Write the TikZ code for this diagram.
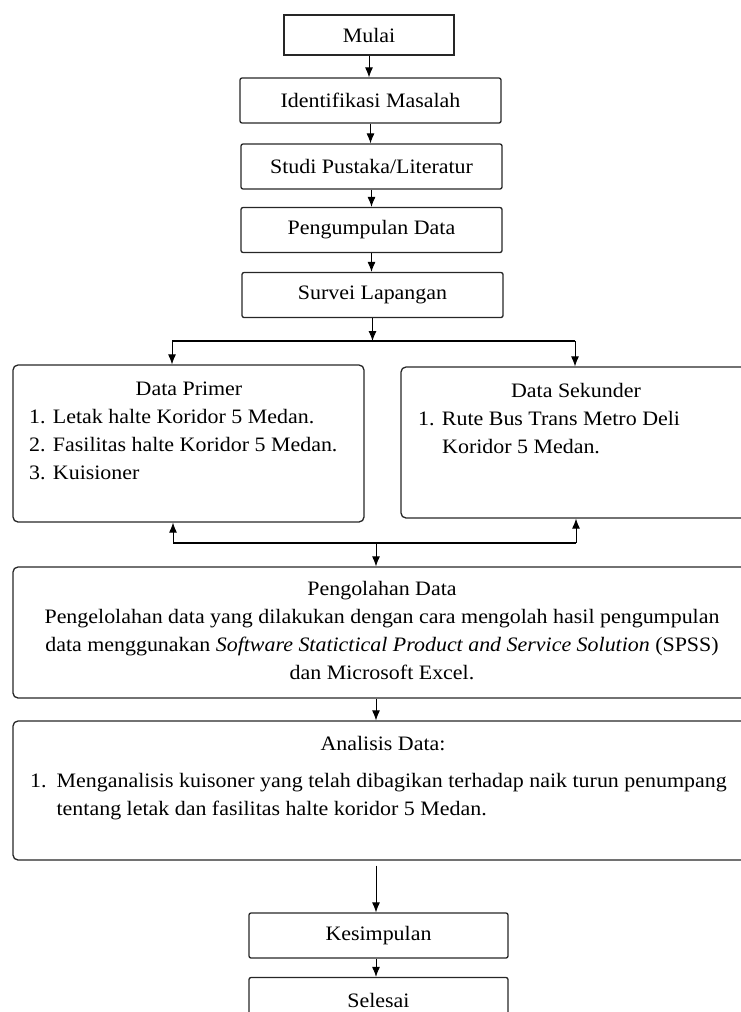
\documentclass[tikz,border=0pt]{standalone}
\usepackage{fontspec}
\setmainfont{Liberation Serif}[FakeStretch=1.07]
\usetikzlibrary{arrows.meta}

\begin{document}
\begin{tikzpicture}[x=1pt,y=-1pt,
    every node/.style={font=\fontsize{20.5}{28}\selectfont},
    box/.style={draw=black!85,line width=1.3pt,rounded corners=2pt,minimum width=261pt,minimum height=45pt,inner sep=0pt},
    bigbox/.style={draw=black!85,line width=1.3pt,rounded corners=5pt,inner sep=0pt},
    txt/.style={inner sep=0pt},
    arr/.style={line width=0.9pt,-{Latex[length=10pt,width=8pt]}},
    link/.style={line width=1.6pt}]
  \useasboundingbox (0,0) rectangle (741,1012);

  \node[box,sharp corners,minimum width=170pt,minimum height=40pt] (mulai) at (369,35) {Mulai};
  \node[box] (identifikasi) at (370.5,100.5) {Identifikasi Masalah};
  \node[box] (studi) at (371.5,166.5) {Studi Pustaka/Literatur};
  \node[box] (pengumpulan) at (371.5,230) {Pengumpulan Data};
  \node[box] (survei) at (372.5,295) {Survei Lapangan};

  \node[bigbox,minimum width=351pt,minimum height=157pt] (primer) at (188.5,443.5) {};
  \node[txt,anchor=base] (primerjudul) at (189,395) {Data Primer};
  \node[txt,anchor=base west] (primerisi) at (29,423) {\begin{tabular}[t]{@{}l@{}}
      1. Letak halte Koridor 5 Medan.\\
      2. Fasilitas halte Koridor 5 Medan.\\
      3. Kuisioner\end{tabular}};

  \node[bigbox,minimum width=349pt,minimum height=151pt] (sekunder) at (575.5,442.5) {};
  \node[txt,anchor=base] (sekunderjudul) at (576,397) {Data Sekunder};
  \node[txt,anchor=base west] (sekunderisi) at (418,425) {\begin{tabular}[t]{@{}l@{}}
      1. Rute Bus Trans Metro Deli\\
      \hspace{24pt}Koridor 5 Medan.\end{tabular}};

  \node[bigbox,minimum width=737pt,minimum height=131pt] (pengolahan) at (381.5,632.5) {};
  \node[txt,anchor=base] (pengolahanisi) at (382,595) {\begin{tabular}[t]{@{}c@{}}
      Pengolahan Data\\
      Pengelolahan data yang dilakukan dengan cara mengolah hasil pengumpulan\\
      data menggunakan \textit{Software Statictical Product and Service Solution} (SPSS)\\
      dan Microsoft Excel.\end{tabular}};

  \node[bigbox,minimum width=737pt,minimum height=139pt] (analisis) at (381.5,790.5) {};
  \node[txt,anchor=base] (analisisjudul) at (383,750) {Analisis Data:};
  \node[txt,anchor=base west] (analisisisi) at (30,787) {\begin{tabular}[t]{@{}l@{\hspace{10pt}}l@{}}
      1. & Menganalisis kuisoner yang telah dibagikan terhadap naik turun penumpang\\
         & tentang letak dan fasilitas halte koridor 5 Medan.\end{tabular}};

  \node[box,minimum width=259pt] (kesimpulan) at (378.5,935.5) {Kesimpulan};
  \node[box,minimum width=259pt] (selesai) at (378.5,1000) {Selesai};

  \coordinate (split) at (372,341);
  \coordinate (kiriatas) at (172,341);
  \coordinate (kananatas) at (575,341);
  \coordinate (gabung) at (376,543);
  \coordinate (kiribawah) at (173,543);
  \coordinate (kananbawah) at (576,543);

  \draw[arr] (mulai.south) -- (mulai.south |- identifikasi.north);
  \draw[arr] (identifikasi.south) -- (identifikasi.south |- studi.north);
  \draw[arr] (studi.south) -- (studi.south |- pengumpulan.north);
  \draw[arr] (pengumpulan.south) -- (pengumpulan.south |- survei.north);
  \draw[arr] (survei.south) -- (survei.south |- split);
  \draw[link] (kiriatas) -- (kananatas);
  \draw[arr] (kiriatas) -- (kiriatas |- primer.north);
  \draw[arr] (kananatas) -- (kananatas |- sekunder.north);
  \draw[link] (kiribawah) -- (kananbawah);
  \draw[arr] (kiribawah) -- (kiribawah |- primer.south);
  \draw[arr] (kananbawah) -- (kananbawah |- sekunder.south);
  \draw[arr] (gabung) -- (gabung |- pengolahan.north);
  \draw[arr] (gabung |- pengolahan.south) -- (gabung |- analisis.north);
  \draw[arr,shorten <=5pt] (gabung |- analisis.south) -- (gabung |- kesimpulan.north);
  \draw[arr] (gabung |- kesimpulan.south) -- (gabung |- selesai.north);
\end{tikzpicture}
\end{document}
